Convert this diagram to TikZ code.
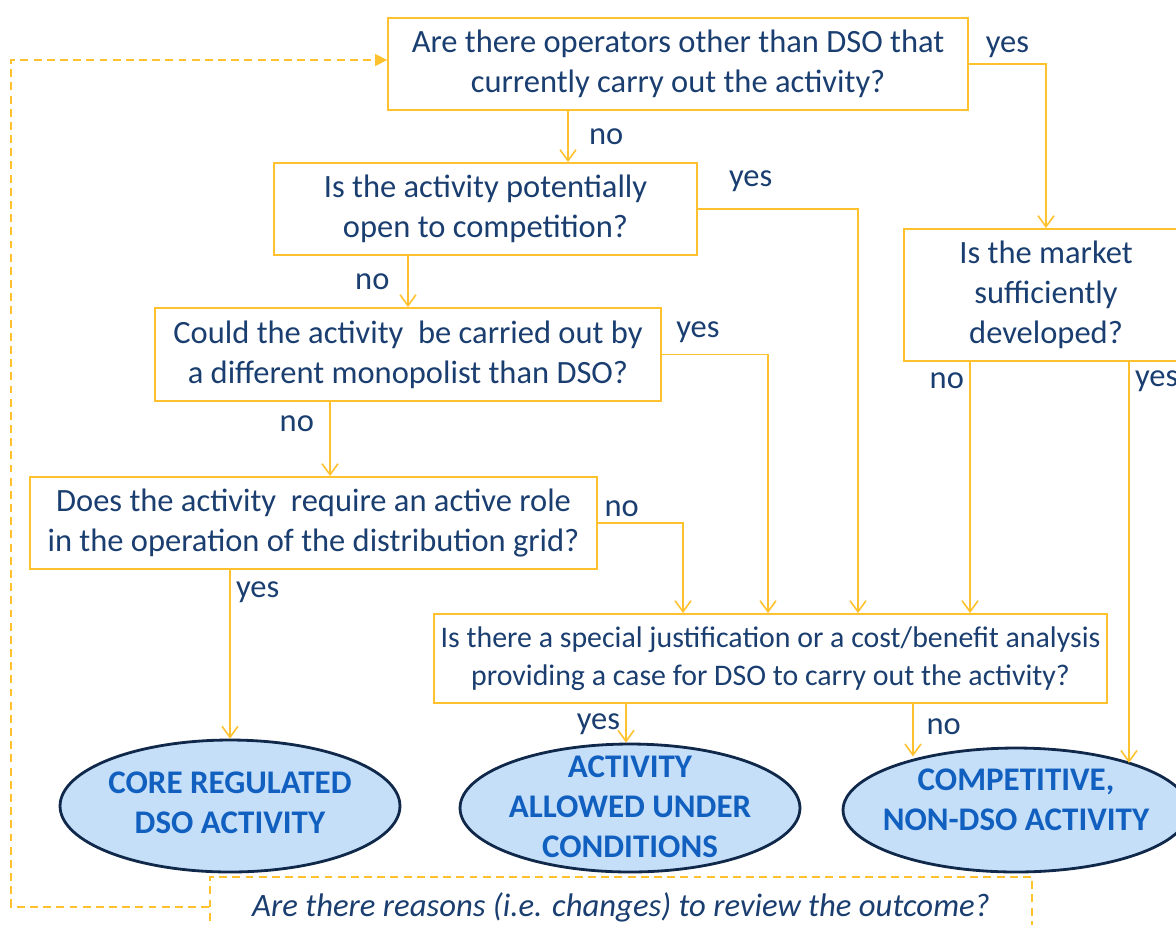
\documentclass[tikz,border=0pt]{standalone}
\usepackage{fontspec}
\setmainfont{Carlito}
\usetikzlibrary{shapes.geometric,arrows.meta,positioning}
\definecolor{boxline}{HTML}{FFC12E}
\definecolor{txtblue}{HTML}{1A3E70}
\definecolor{ovalfill}{HTML}{C6DFF9}
\definecolor{ovalline}{HTML}{10294A}
\definecolor{ovaltext}{HTML}{1160C0}
\begin{document}
\begin{tikzpicture}[x=0.02cm,y=-0.02cm]
	\tikzset{question/.style = {shape=rectangle,draw=boxline,line width=1.1pt,text=txtblue,align=center,inner sep=0pt,font=\fontsize{18.5}{22.8}\selectfont}}
	\tikzset{outcome/.style = {shape=ellipse,draw=ovalline,fill=ovalfill,line width=1.6pt,inner sep=0pt}}
	\tikzset{outcometext/.style = {text=ovaltext,align=center,inner sep=0pt,font=\bfseries\fontsize{18.8}{22.8}\selectfont}}
	\tikzset{flow/.style = {draw=boxline,line width=0.9pt,-{Straight Barb[length=0.22cm,width=0.32cm]}}}
	\tikzset{answer/.style = {text=txtblue,inner sep=3pt,font=\fontsize{18.5}{22}\selectfont}}
	\tikzset{loopback/.style = {draw=boxline,line width=0.9pt,dash pattern=on 4.5pt off 3pt,-{Triangle[length=0.24cm,width=0.24cm]}}}
	\useasboundingbox (0,0) rectangle (1176,924);
	% questions
	\node[question,minimum width=11.6cm,minimum height=1.84cm] (ops) at (678,64) {Are there operators other than DSO that\\currently carry out the activity?};
	\node[question,minimum width=8.46cm,minimum height=1.84cm] (compete) at (485.5,209) {Is the activity potentially\\open to competition?};
	\node[question,minimum width=10.12cm,minimum height=1.86cm] (monopoly) at (408,354.5) {Could the activity\ \ be carried out by\\a different monopolist than DSO?};
	\node[question,minimum width=11.34cm,minimum height=1.84cm] (grid) at (313.5,523) {Does the activity\ \ require an active role\\in the operation of the distribution grid?};
	\node[question,minimum width=5.68cm,minimum height=2.64cm] (market) at (1046,295) {Is the market\\sufficiently\\developed?};
	\node[question,minimum width=13.46cm,minimum height=1.78cm,font=\fontsize{17}{21.6}\selectfont] (justify) at (770.5,658.5) {Is there a special justification or a cost/benefit analysis\\providing a case for DSO to carry out the activity?};
	% outcomes
	\node[outcome,minimum width=6.8cm,minimum height=2.64cm,label={[outcometext,yshift=0.06cm]center:{CORE REGULATED\\DSO ACTIVITY}}] (core) at (230,806) {};
	\node[outcome,minimum width=6.8cm,minimum height=2.56cm,label={[outcometext,yshift=0.02cm]center:{ACTIVITY\\ALLOWED UNDER\\CONDITIONS}}] (allowed) at (630,808) {};
	\node[outcome,minimum width=6.92cm,minimum height=2.48cm,label={[outcometext,yshift=0.2cm]center:{COMPETITIVE,\\NON-DSO ACTIVITY}}] (nondso) at (1016,810) {};
	% review
	\node[draw=boxline,line width=1pt,dash pattern=on 4.5pt off 3pt,minimum width=16.44cm,minimum height=1.2cm,text=txtblue,font=\itshape\fontsize{18.6}{22}\selectfont] (review) at (621,907) {Are there reasons (i.e. changes) to review the outcome?};
	% connectors
	\draw[flow] ([xshift=-2.2cm]ops.south) -- node[answer,right,xshift=0.3cm] {no} ([xshift=-2.2cm]ops.south |- compete.north);
	\draw[flow] (ops.east) -| node[answer,pos=0.25,above] {yes} (market.north);
	\draw[flow] (compete.south -| monopoly.north) -- node[answer,left,xshift=-0.25cm] {no} (monopoly.north);
	\draw[flow] (compete.east) -| node[answer,pos=0.165,above,yshift=0.22cm] {yes} ([xshift=1.75cm]justify.north);
	\draw[flow] ([xshift=-1.56cm]monopoly.south) -- node[answer,pos=0.29,left,xshift=-0.2cm] {no} ([xshift=-1.56cm]monopoly.south |- grid.north);
	\draw[flow] (monopoly.east) -| node[answer,pos=0.17,above,yshift=0.12cm] {yes} ([xshift=-0.05cm]justify.north);
	\draw[flow] (grid.south -| core.north) -- node[answer,pos=0.13,right] {yes} (core.north);
	\draw[flow] (grid.east) -| node[answer,pos=0.14,above] {no} ([xshift=-1.75cm]justify.north);
	\draw[flow] ([xshift=-1.52cm]market.south) -- node[answer,pos=0.075,left] {no} ([xshift=-1.52cm]market.south |- justify.north);
	\draw[flow] ([xshift=1.66cm]market.south) -- node[answer,pos=0.047,right] {yes} ([xshift=1.66cm]market.south |- nondso.22.6);
	\draw[flow] ([xshift=-2.89cm]justify.south) -- node[answer,pos=0.52,left] {yes} ([xshift=-2.89cm]justify.south |- allowed.north);
	\draw[flow] ([xshift=2.85cm]justify.south) -- node[answer,pos=0.44,right,xshift=0.15cm] {no} ([xshift=2.85cm]justify.south |- nondso.150);
	\draw[loopback] (review.west) -- ++(-3.96cm,0) |- ([yshift=0.08cm]ops.west);
\end{tikzpicture}
\end{document}
